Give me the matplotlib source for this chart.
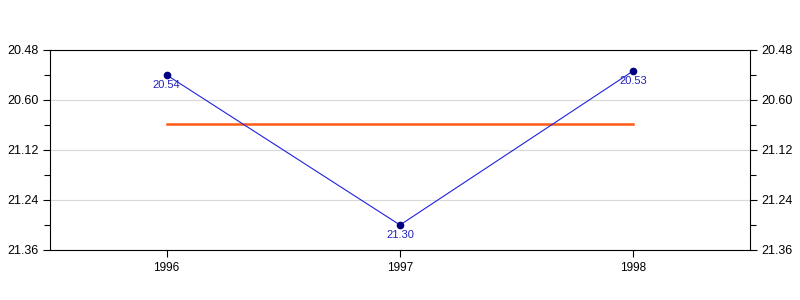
import numpy as np
import matplotlib
matplotlib.use('Agg')
import matplotlib.pyplot as plt

# 数据 (值为 "时.分" 格式)
years = [1996, 1997, 1998]
values = [20.54, 21.30, 20.53]
value_labels = ['20.54', '21.30', '20.53']
ytick_labels = ['20.48', '20.60', '21.12', '21.24', '21.36']


def to_minutes(v):
    h = int(v)
    m = int(round((v - h) * 100))
    return h * 60 + m


mins = [to_minutes(v) for v in values]
mean_val = np.mean(mins)

plt.rcParams['font.family'] = ['Liberation Sans', 'DejaVu Sans']

fig = plt.figure(figsize=(8, 3), dpi=100)
ax = fig.add_axes([0.0625, 1 / 6, 0.875, 2 / 3])

ax.plot(years, [mean_val] * len(years), color='#ff5a14', lw=1.8, zorder=2)
ax.plot(years, mins, color='#2222dd', lw=0.8, zorder=3)
ax.plot(years, mins, 'o', color='#000080', ms=4.5, zorder=4)
for x, y, lab in zip(years, mins, value_labels):
    ax.annotate(lab, (x, y), xytext=(0, -3.5), textcoords='offset points',
                ha='center', va='top', fontsize=8, color='#2222bb')

yt = np.arange(20 * 60 + 48, 21 * 60 + 37, 12)
ax.set_ylim(yt[-1], yt[0])
ax.set_yticks(yt)
ax.set_yticklabels(ytick_labels)
ax.set_yticks(yt[:-1] + 6, minor=True)
ax.set_xlim(1995.5, 1998.5)
ax.set_xticks(years)
ax.set_xticklabels([str(y) for y in years])

ax.grid(axis='y', color='#d8d8d8', lw=0.8)
ax.set_axisbelow(True)
ax.tick_params(axis='y', which='both', left=True, right=True,
               labelleft=True, labelright=True, direction='out', labelsize=9,
               length=5, width=0.8)
ax.tick_params(axis='y', which='minor', length=4)
ax.tick_params(axis='x', direction='out', labelsize=8.5, length=5, width=0.8)

plt.savefig('out.png', dpi=100)
